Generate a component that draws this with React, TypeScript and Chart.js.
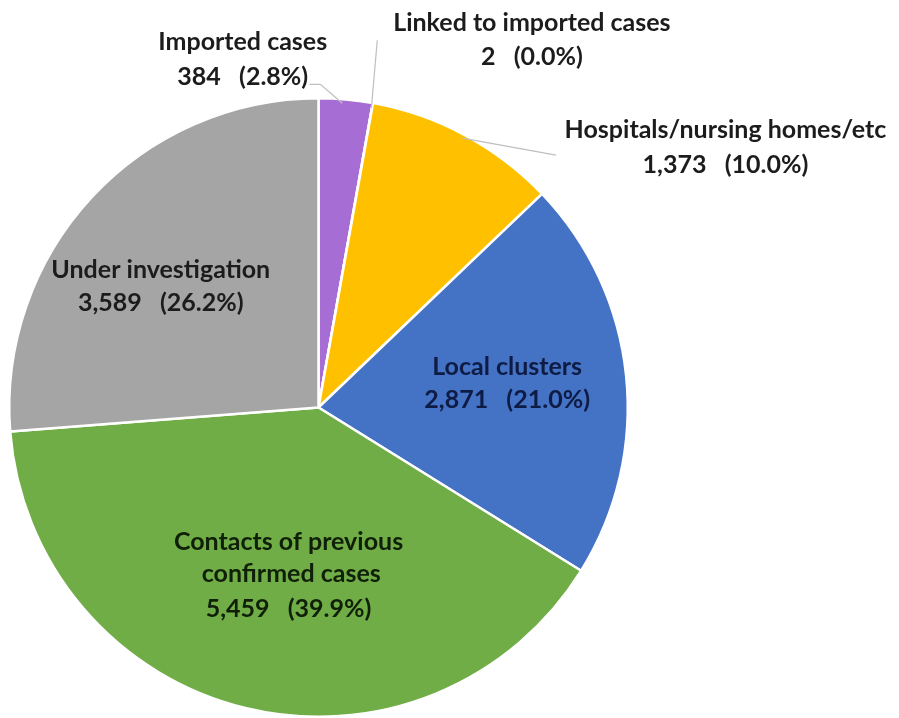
import React, { useEffect, useRef } from "react";
import { Chart, registerables } from "chart.js";

Chart.register(...registerables);

const categories = [
  "Imported cases",
  "Linked to imported cases",
  "Hospitals/nursing homes/etc",
  "Local clusters",
  "Contacts of previous confirmed cases",
  "Under investigation",
];
const caseCounts = [384, 2, 1373, 2871, 5459, 3589];
const sliceColors = ["#A66DD4", "#F2B800", "#FFC000", "#4472C4", "#70AD47", "#A5A5A5"];

// label text lines (category name may be wrapped), value line built from data
const labelNameLines: string[][] = [
  ["Imported cases"],
  ["Linked to imported cases"],
  ["Hospitals/nursing homes/etc"],
  ["Local clusters"],
  ["Contacts of previous", "confirmed cases"],
  ["Under investigation"],
];

// label placement in units of pie radius relative to pie centre (layout only)
const labelLayout: { dx: number[]; dy: number[] }[] = [
  { dx: [-0.245, -0.245], dy: [-1.181, -1.068] },
  { dx: [0.69, 0.69], dy: [-1.245, -1.132] },
  { dx: [1.316, 1.316], dy: [-0.897, -0.784] },
  { dx: [0.61, 0.61], dy: [-0.132, -0.026] },
  { dx: [-0.097, -0.088, -0.097], dy: [0.435, 0.539, 0.652] },
  { dx: [-0.51, -0.51], dy: [-0.445, -0.339] },
];
const leaderLayout: ([number, number][] | null)[] = [
  [[-0.029, -1.045], [0.006, -1.045], [0.077, -0.984]],
  [[0.19, -1.187], [0.171, -0.968]],
  [[0.768, -0.816], [0.465, -0.871]],
  null,
  null,
  null,
];

const fmt = (n: number) => n.toLocaleString("en-US");

const labelPlugin = {
  id: "sliceLabels",
  afterDatasetsDraw(chart: any) {
    const ctx = chart.ctx as CanvasRenderingContext2D;
    const meta = chart.getDatasetMeta(0);
    const data = chart.data.datasets[0].data as number[];
    const total = data.reduce((a, b) => a + b, 0);
    ctx.save();
    meta.data.forEach((arc: any, i: number) => {
      const cx = arc.x;
      const cy = arc.y;
      const R = arc.outerRadius;
      const leader = leaderLayout[i];
      if (leader) {
        ctx.beginPath();
        ctx.strokeStyle = "#BFBFBF";
        ctx.lineWidth = 1.2;
        leader.forEach(([dx, dy], k) => {
          const x = cx + dx * R;
          const y = cy + dy * R;
          if (k === 0) ctx.moveTo(x, y);
          else ctx.lineTo(x, y);
        });
        ctx.stroke();
      }
      const pct = ((data[i] / total) * 100).toFixed(1);
      const lines = [...labelNameLines[i], `${fmt(data[i])}   (${pct}%)`];
      const lay = labelLayout[i];
      ctx.font = "bold 25px Lato";
      ctx.fillStyle = i === 3 ? "#0E1C45" : i === 4 ? "#102008" : "#1C1C1C";
      ctx.textAlign = "center";
      ctx.textBaseline = "middle";
      lines.forEach((t, k) => {
        ctx.fillText(t, cx + lay.dx[k] * R, cy + lay.dy[k] * R);
      });
    });
    ctx.restore();
  },
};

export default function App() {
  const ref = useRef<HTMLCanvasElement | null>(null);
  useEffect(() => {
    if (!ref.current) return;
    const chart = new Chart(ref.current, {
      type: "pie",
      data: {
        labels: categories,
        datasets: [
          {
            data: caseCounts,
            backgroundColor: sliceColors,
            borderColor: "#FFFFFF",
            borderWidth: 2.5,
          },
        ],
      },
      options: {
        animation: false,
        responsive: false,
        devicePixelRatio: 1,
        layout: { padding: { top: 97, bottom: 0, left: 8, right: 270 } },
        plugins: {
          legend: { display: false },
          tooltip: { enabled: false },
        },
      },
      plugins: [labelPlugin],
    });
    return () => chart.destroy();
  }, []);
  return (
    <div style={{ position: "absolute", left: 0, top: 0, width: 899, height: 718, background: "#fff" }}>
      <canvas ref={ref} width={899} height={718} />
    </div>
  );
}
